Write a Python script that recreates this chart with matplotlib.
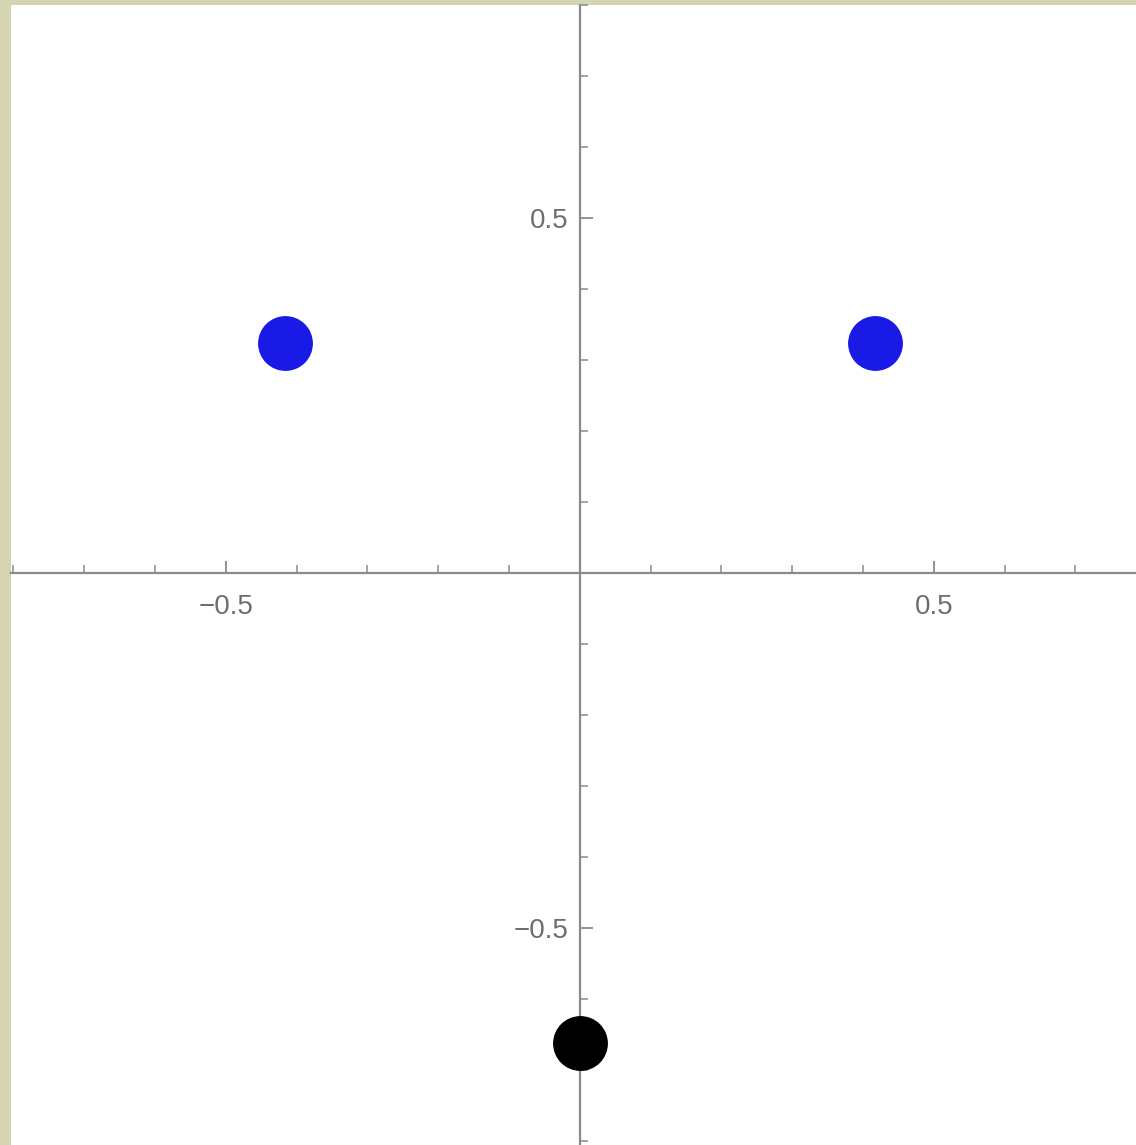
import matplotlib
matplotlib.use("Agg")
import matplotlib.pyplot as plt
from matplotlib.ticker import FixedLocator, FixedFormatter

# Point data
blue_x = [-0.417, 0.417]
blue_y = [0.324, 0.324]
black_x = [0.0]
black_y = [-0.663]

major_ticks = [-0.5, 0.5]
major_labels = ["\u22120.5", "0.5"]
minor_ticks = [-0.8, -0.7, -0.6, -0.4, -0.3, -0.2, -0.1,
               0.1, 0.2, 0.3, 0.4, 0.6, 0.7, 0.8]

W, H = 1136, 1145
fig = plt.figure(figsize=(W / 100, H / 100), dpi=100, facecolor="#d6d5b3")
ax = fig.add_axes([11 / W, 0, 1 - 11 / W, 1 - 5 / H])
ax.set_facecolor("white")

ax.set_xlim(-0.8035, 0.7855)
ax.set_ylim(-0.806, 0.800)

axis_col = "#8a8a8a"
for side in ["top", "right"]:
    ax.spines[side].set_visible(False)
for side in ["left", "bottom"]:
    ax.spines[side].set_position("zero")
    ax.spines[side].set_color(axis_col)
    ax.spines[side].set_linewidth(1.6)

for axis in (ax.xaxis, ax.yaxis):
    axis.set_major_locator(FixedLocator(major_ticks))
    axis.set_major_formatter(FixedFormatter(major_labels))
    axis.set_minor_locator(FixedLocator(minor_ticks))

ax.tick_params(which="major", direction="in", length=9, width=1.3,
               color=axis_col, labelcolor="#6e6e6e", labelsize=20)
ax.tick_params(which="minor", direction="in", length=5.5, width=1.1,
               color=axis_col)
ax.tick_params(axis="x", which="major", pad=15)
ax.tick_params(axis="y", which="major", pad=8)
for lbl in ax.get_xticklabels() + ax.get_yticklabels():
    lbl.set_fontfamily("Liberation Sans")

ax.scatter(blue_x, blue_y, s=39.5 ** 2, color="#1a1ae6", zorder=3,
           linewidths=0)
ax.scatter(black_x, black_y, s=39.5 ** 2, color="black", zorder=3,
           linewidths=0, clip_on=False)

fig.savefig("out.png", dpi=100, facecolor=fig.get_facecolor())
